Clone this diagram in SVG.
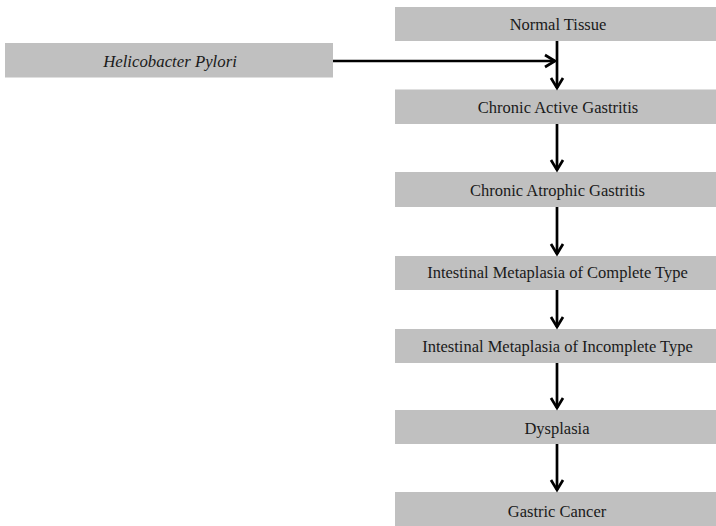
<svg xmlns="http://www.w3.org/2000/svg" width="716" height="526" viewBox="0 0 716 526">
<style>
.box{fill:#c0c0c0;}
.lbl{font-family:"Liberation Serif","Times New Roman",serif;font-size:16.5px;fill:#1a1a1a;text-anchor:middle;}
.it{font-style:italic;font-size:16.8px;}
.conn{stroke:#000;stroke-width:2.7;fill:none;}
.head{stroke:#000;stroke-width:2.7;fill:none;stroke-linecap:butt;stroke-linejoin:miter;}
</style>
<rect width="716" height="526" fill="#ffffff"/>
<g id="n-normal"><rect class="box" x="395" y="7" width="326" height="34"/><text class="lbl" x="558" y="30">Normal Tissue</text></g>
<g id="n-hp"><rect class="box" x="5" y="43" width="328" height="34.5"/><text class="lbl it" x="170" y="66.5">Helicobacter Pylori</text></g>
<g id="n-cag"><rect class="box" x="395" y="89.5" width="326" height="34.5"/><text class="lbl" x="558" y="113.3">Chronic Active Gastritis</text></g>
<g id="n-catg"><rect class="box" x="395" y="172" width="326" height="35"/><text class="lbl" x="557.5" y="195.5">Chronic Atrophic Gastritis</text></g>
<g id="n-imc"><rect class="box" x="395" y="256" width="326" height="34"/><text class="lbl" x="557.5" y="278">Intestinal Metaplasia of Complete Type</text></g>
<g id="n-imi"><rect class="box" x="395" y="329" width="326" height="34"/><text class="lbl" x="557.5" y="351.5">Intestinal Metaplasia of Incomplete Type</text></g>
<g id="n-dys"><rect class="box" x="395" y="410" width="326" height="34"/><text class="lbl" x="557" y="434">Dysplasia</text></g>
<g id="n-gc"><rect class="box" x="395" y="492" width="326" height="36"/><text class="lbl" x="557" y="516.5">Gastric Cancer</text></g>
<g id="connectors">
<line class="conn" x1="333" y1="61" x2="555" y2="61"/>
<polyline class="head" points="545,55 555,61 545,67"/>
<line class="conn" x1="557" y1="41" x2="557" y2="88"/>
<polyline class="head" points="551,78 557,88 563,78"/>
<line class="conn" x1="557" y1="124" x2="557" y2="170"/>
<polyline class="head" points="551,160 557,170 563,160"/>
<line class="conn" x1="557" y1="207" x2="557" y2="254"/>
<polyline class="head" points="551,244 557,254 563,244"/>
<line class="conn" x1="557" y1="290" x2="557" y2="327"/>
<polyline class="head" points="551,317 557,327 563,317"/>
<line class="conn" x1="557" y1="363" x2="557" y2="408"/>
<polyline class="head" points="551,398 557,408 563,398"/>
<line class="conn" x1="557" y1="444" x2="557" y2="490"/>
<polyline class="head" points="551,480 557,490 563,480"/>
</g>
</svg>
